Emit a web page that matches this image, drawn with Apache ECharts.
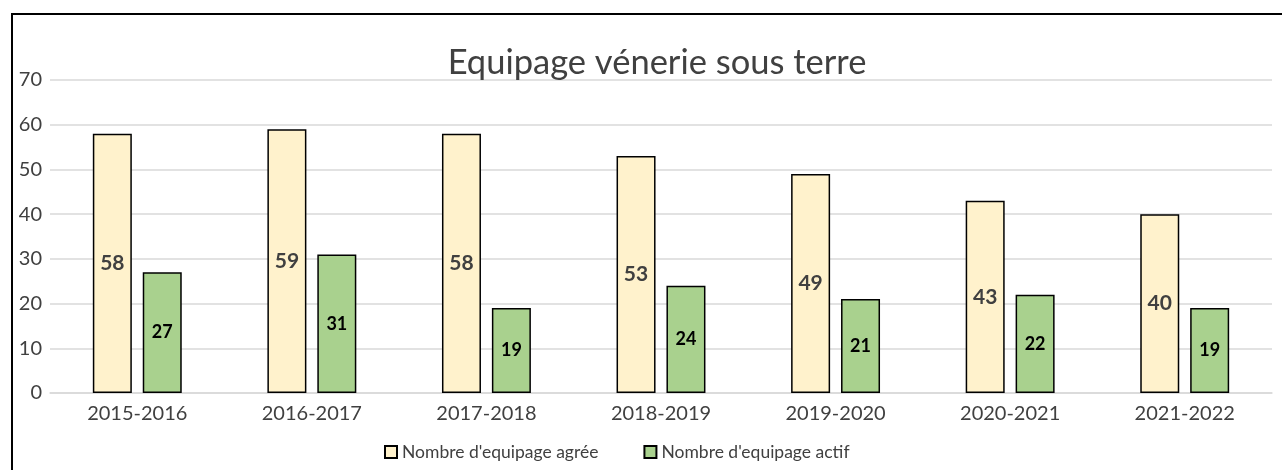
<!DOCTYPE html>
<html>
<head>
<meta charset="utf-8">
<script src="https://cdn.jsdelivr.net/npm/echarts@6/dist/echarts.min.js"></script>
<style>
  html, body { margin: 0; padding: 0; background: #fff; }
  #main { width: 1282px; height: 470px; }
</style>
</head>
<body>
<div id="main"></div>
<script>
// chart data
var seasons = ["2015-2016", "2016-2017", "2017-2018", "2018-2019", "2019-2020", "2020-2021", "2021-2022"];
var agrees = [58, 59, 58, 53, 49, 43, 40];
var actifs = [27, 31, 19, 24, 21, 22, 19];
var yTicks = [0, 10, 20, 30, 40, 50, 60, 70];

var font = "Lato, 'Noto Sans', sans-serif";
var myChart = echarts.init(document.getElementById("main"));
var option = {
  animation: false,
  textStyle: { fontFamily: font },
  title: {
    text: "Equipage vénerie sous terre",
    left: 652,
    top: 40,
    textAlign: "center",
    textStyle: { fontSize: 34.5, fontWeight: "normal", color: "#404040", fontFamily: font },
  },
  graphic: [
    {
      type: "rect",
      shape: { x: 12, y: 14, width: 1290, height: 480 },
      style: { fill: "none", stroke: "#000", lineWidth: 2 },
      silent: true,
    },
  ],
  legend: {
    bottom: 4,
    left: 379,
    itemWidth: 12,
    itemHeight: 12,
    itemGap: 45,
    icon: "rect",
    textStyle: { fontSize: 17.5, color: "#404040", fontFamily: font },
    data: ["Nombre d'equipage agrée", "Nombre d'equipage actif"],
  },
  grid: { left: 50, right: 10, top: 80, bottom: 77 },
  xAxis: {
    type: "category",
    data: seasons,
    axisTick: { show: false },
    axisLine: { lineStyle: { color: "#D9D9D9", width: 1.5 } },
    axisLabel: { fontSize: 20, color: "#404040", margin: 11 },
  },
  yAxis: {
    type: "value",
    min: yTicks[0],
    max: yTicks[yTicks.length - 1],
    interval: 10,
    splitLine: { lineStyle: { color: "#D9D9D9", width: 1.5 } },
    axisLabel: { fontSize: 20, color: "#404040", margin: 8 },
  },
  series: [
    {
      name: "Nombre d'equipage agrée",
      type: "bar",
      data: agrees,
      barWidth: 39,
      barGap: "28%",
      itemStyle: { color: "#FFF2CC", borderColor: "#000", borderWidth: 1.5 },
      label: { show: true, position: "inside", fontSize: 21, fontWeight: "bold", color: "#404040" },
    },
    {
      name: "Nombre d'equipage actif",
      type: "bar",
      data: actifs,
      barWidth: 39,
      itemStyle: { color: "#A9D18E", borderColor: "#000", borderWidth: 1.5 },
      label: { show: true, position: "inside", fontSize: 18, fontWeight: "bold", color: "#000" },
    },
  ],
};
myChart.setOption(option);
</script>
</body>
</html>
